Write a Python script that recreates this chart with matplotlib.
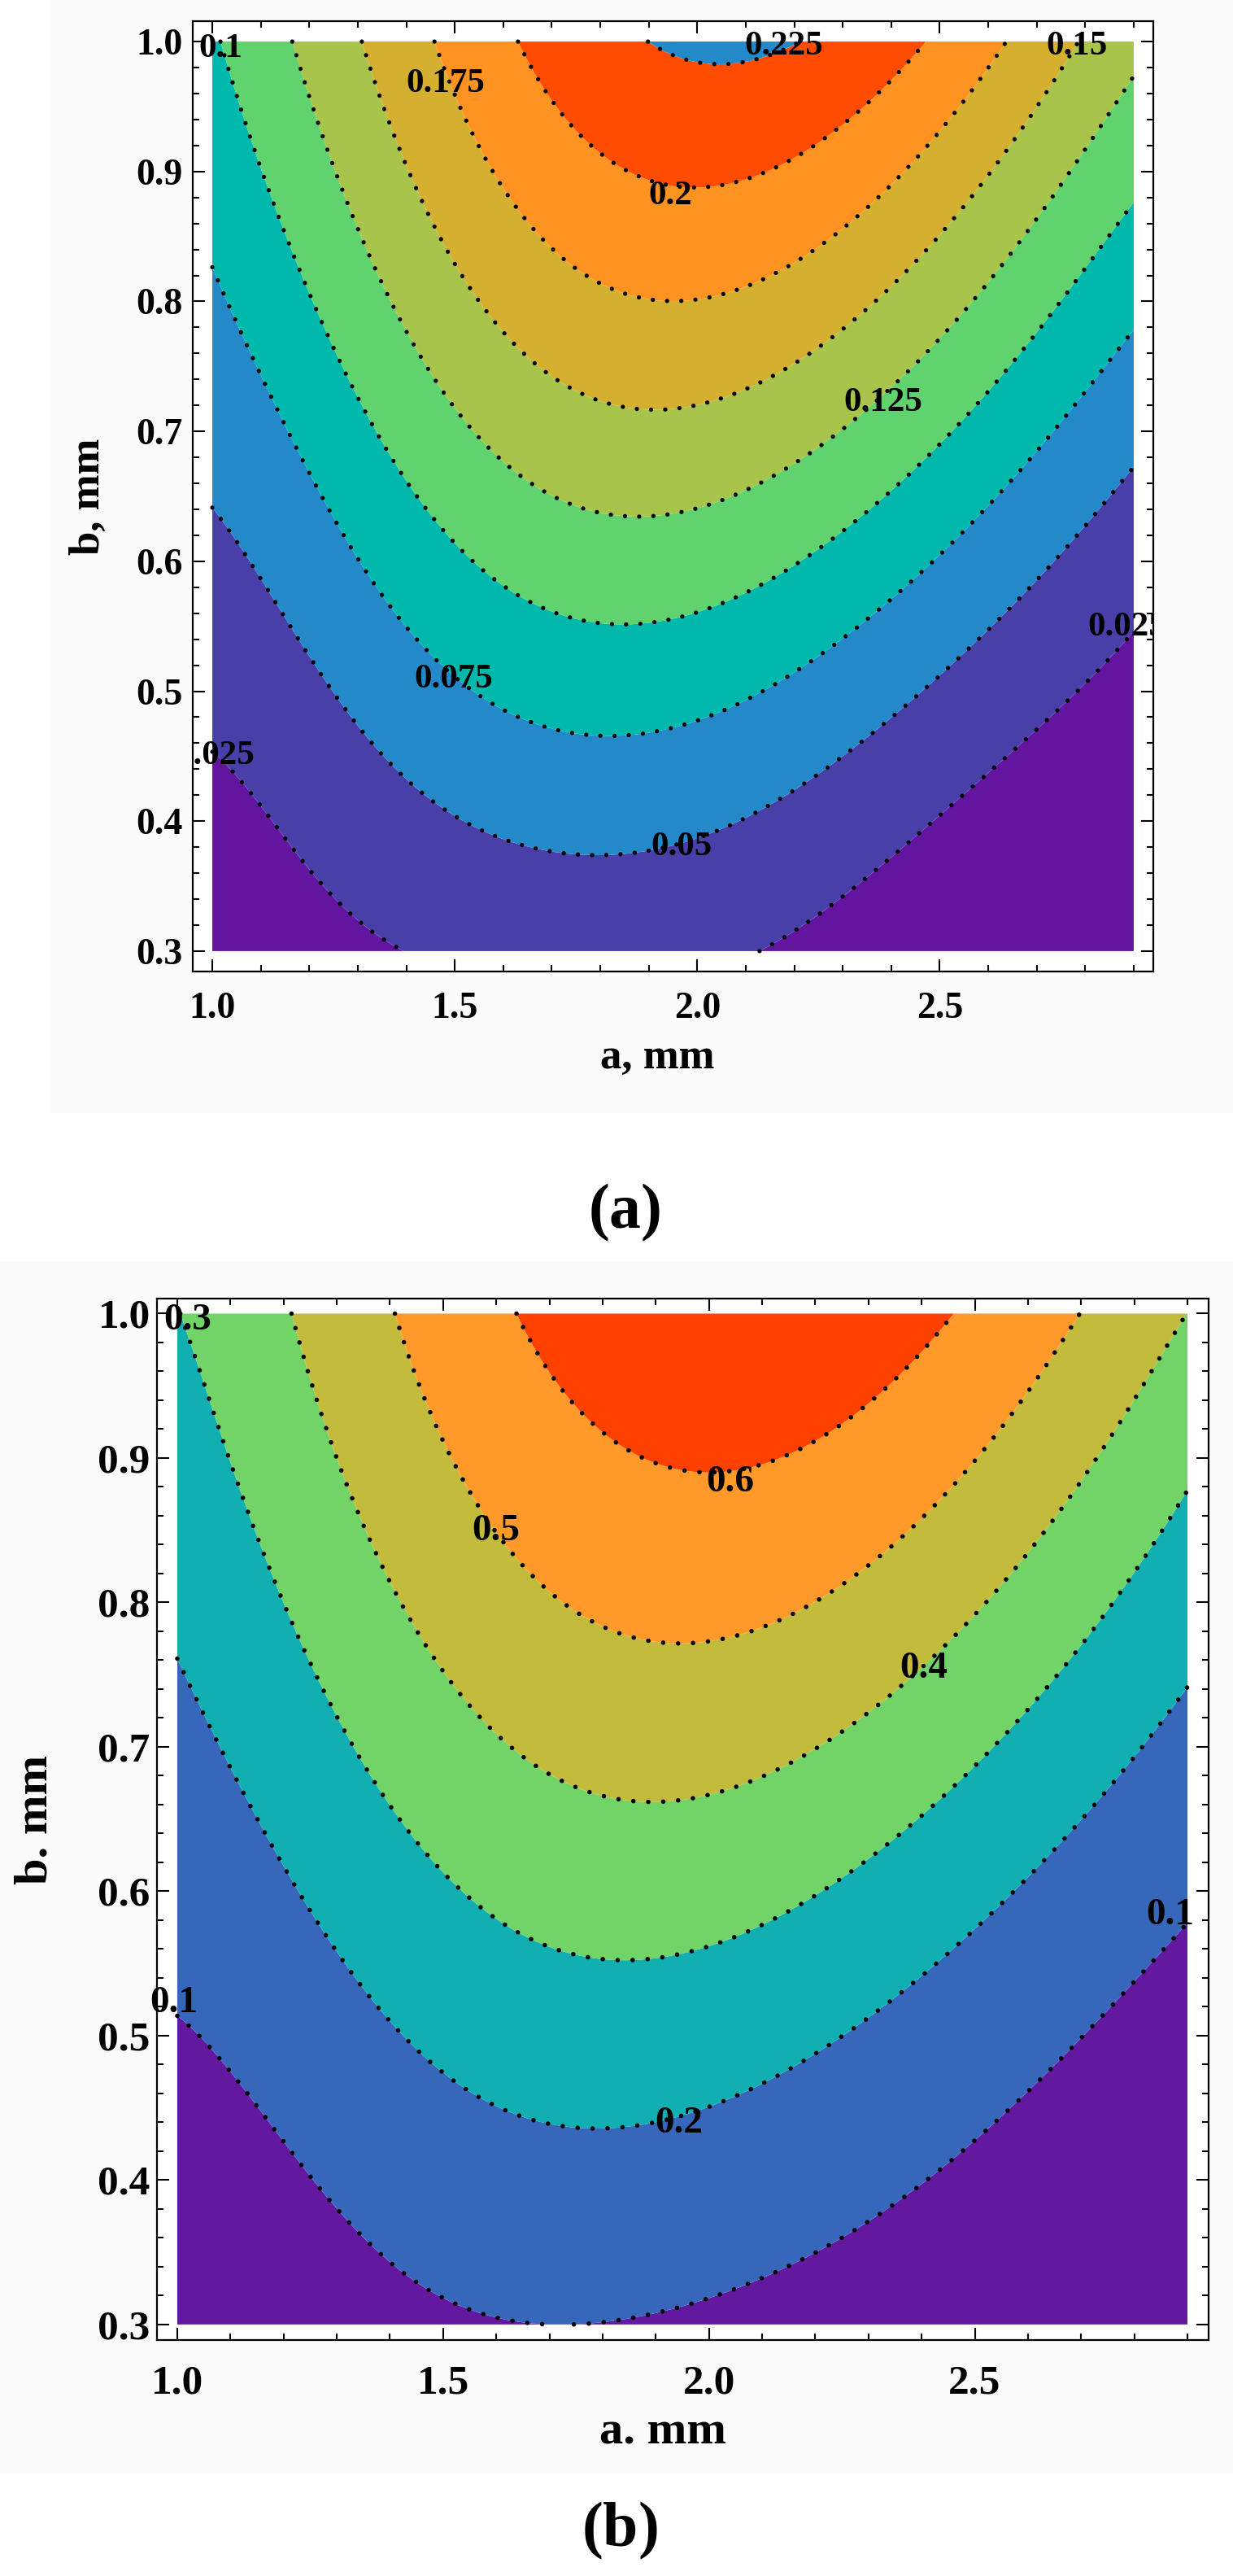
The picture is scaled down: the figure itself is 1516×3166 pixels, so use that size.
import numpy as np
import matplotlib
matplotlib.use('Agg')
import matplotlib.pyplot as plt
from matplotlib.ticker import MultipleLocator, FormatStrFormatter
from matplotlib.patches import Rectangle

plt.rcParams['font.family'] = ['Liberation Serif', 'DejaVu Serif']
plt.rcParams['font.weight'] = 'bold'
plt.rcParams['mathtext.fontset'] = 'custom'
plt.rcParams['mathtext.rm'] = 'Liberation Serif'
plt.rcParams['mathtext.bf'] = 'Liberation Serif:bold'

# ---------------- panel (a): points (a, b) ----------------
levels_a = [0.025, 0.05, 0.075, 0.1, 0.125, 0.15, 0.175, 0.2, 0.225]
colors_a = ['#6415a0', '#4840a8', '#2389c9', '#00b8ac', '#60d26e',
            '#a8c44b', '#d5b030', '#ff9322', '#ff4c00', '#2389c9']

a025_a = [1.0, 1.186, 1.295, 1.38, 2.114, 2.407, 2.63, 2.9]
a025_b = [0.453, 0.369, 0.329, 0.30, 0.30, 0.378, 0.448, 0.543]
a050_a = [1.0, 1.233, 1.522, 1.79, 2.196, 2.407, 2.63, 2.742, 2.9]
a050_b = [0.646, 0.502, 0.403, 0.371, 0.423, 0.478, 0.553, 0.603, 0.678]
a075_a = [1.0, 1.233, 1.426, 1.82, 2.196, 2.407, 2.63, 2.742, 2.9]
a075_b = [0.827, 0.641, 0.539, 0.465, 0.505, 0.575, 0.655, 0.70, 0.781]
a100_a = [1.02, 1.131, 1.233, 1.426, 1.859, 2.196, 2.407, 2.63, 2.742, 2.9]
a100_b = [1.0, 0.870, 0.773, 0.654, 0.550, 0.600, 0.658, 0.749, 0.790, 0.874]
a125_a = [1.168, 1.237, 1.31, 1.619, 1.888, 2.196, 2.416, 2.63, 2.9]
a125_b = [1.0, 0.912, 0.85, 0.674, 0.631, 0.681, 0.745, 0.831, 0.971]
a150_a = [1.309, 1.483, 1.696, 1.926, 2.196, 2.407, 2.484, 2.775]
a150_b = [1.0, 0.844, 0.746, 0.713, 0.756, 0.817, 0.844, 1.0]
a175_a = [1.458, 1.569, 1.704, 1.975, 2.263, 2.459, 2.641]
a175_b = [1.0, 0.905, 0.844, 0.796, 0.844, 0.907, 1.0]
a200_a = [1.631, 1.698, 2.013, 2.338, 2.468]
a200_b = [1.0, 0.947, 0.883, 0.937, 1.0]
a225_a = [1.898, 2.02, 2.134]
a225_b = [1.0, 0.983, 1.0]

# estimated values at corners / edges (a, b, value)
anchor_a = [(1.0, 0.3, 0.006), (2.9, 0.3, 0.003), (1.0, 1.0, 0.099),
            (2.9, 1.0, 0.132), (1.75, 0.3, 0.031), (2.02, 1.0, 0.229)]

labels_a = [(0.1, 1.018, 0.997), (0.175, 1.481, 0.970), (0.225, 2.178, 0.999),
            (0.15, 2.783, 0.999), (0.2, 1.944, 0.884), (0.125, 2.384, 0.725),
            (0.075, 1.498, 0.512), (0.05, 1.967, 0.383), (0.025, 1.007, 0.453),
            (0.025, 2.887, 0.552)]

# ---------------- panel (b) ----------------
levels_b = [0.1, 0.2, 0.3, 0.4, 0.5, 0.6]
colors_b = ['#6318a0', '#3767bb', '#11afb2', '#72d366', '#c3bb3c',
            '#ff9a2a', '#ff4100']

b100_a = [1.0, 1.071, 1.2, 1.328, 1.483, 1.679, 1.824, 1.973, 2.23, 2.488, 2.745, 2.9]
b100_b = [0.517, 0.486, 0.419, 0.366, 0.328, 0.30, 0.30, 0.318, 0.359, 0.421, 0.505, 0.580]
b200_a = [1.0, 1.071, 1.135, 1.238, 1.38, 1.547, 1.689, 1.792, 2.037, 2.23, 2.423,
          2.617, 2.70, 2.9]
b200_b = [0.767, 0.712, 0.659, 0.594, 0.520, 0.467, 0.438, 0.434, 0.452, 0.493, 0.556,
          0.621, 0.659, 0.748]
b300_a = [1.006, 1.071, 1.135, 1.2, 1.30, 1.41, 1.56, 1.715, 1.844, 2.05, 2.23, 2.41,
          2.617, 2.745, 2.9]
b300_b = [1.0, 0.928, 0.856, 0.784, 0.712, 0.659, 0.596, 0.560, 0.551, 0.568, 0.611,
          0.659, 0.712, 0.784, 0.875]
b400_a = [1.216, 1.277, 1.354, 1.457, 1.586, 1.715, 1.934, 2.101, 2.359, 2.565, 2.745, 2.897]
b400_b = [1.0, 0.928, 0.856, 0.784, 0.717, 0.678, 0.659, 0.669, 0.748, 0.820, 0.911, 1.0]
b500_a = [1.408, 1.483, 1.56, 1.663, 1.792, 1.966, 2.166, 2.346, 2.514, 2.617, 2.697]
b500_b = [1.0, 0.926, 0.870, 0.827, 0.784, 0.769, 0.794, 0.849, 0.909, 0.957, 1.0]
b600_a = [1.634, 1.715, 1.766, 1.87, 1.96, 2.217, 2.346, 2.42, 2.468]
b600_b = [1.0, 0.950, 0.928, 0.897, 0.886, 0.914, 0.945, 0.981, 1.0]

anchor_b = [(1.0, 0.3, 0.02), (2.9, 0.3, 0.0), (1.0, 1.0, 0.298),
            (2.9, 1.0, 0.40), (1.75, 0.3, 0.102), (2.05, 1.0, 0.66)]

labels_b = [(0.3, 1.019, 0.998), (0.6, 2.04, 0.886), (0.5, 1.599, 0.852),
            (0.4, 2.404, 0.757), (0.2, 1.943, 0.442), (0.1, 0.994, 0.525),
            (0.1, 2.868, 0.586)]


def fit_field(curves, anchors, na=6, nb=4, lam=1e-5):
    pa, pb, pz, w = [], [], [], []
    for lev, xs, ys in curves:
        pa += xs
        pb += ys
        pz += [lev] * len(xs)
        w += [1.0] * len(xs)
    for x, y, z in anchors:
        pa.append(x)
        pb.append(y)
        pz.append(z)
        w.append(0.6)
    pa, pb, pz, w = map(np.asarray, (pa, pb, pz, w))

    def basis(x, y):
        u = (x - 1.95) / 0.95
        v = (y - 0.65) / 0.35
        return np.stack([u ** i * v ** j for i in range(na) for j in range(nb)], axis=-1)

    M = basis(pa, pb) * w[:, None]
    k = M.shape[1]
    M = np.vstack([M, np.sqrt(lam) * np.eye(k)])
    rhs = np.concatenate([pz * w, np.zeros(k)])
    coef = np.linalg.lstsq(M, rhs, rcond=None)[0]

    ga = np.linspace(1.0, 2.9, 381)
    gb = np.linspace(0.3, 1.0, 281)
    GA, GB = np.meshgrid(ga, gb)
    Z = basis(GA, GB) @ coef
    return GA, GB, Z


def style_axes(ax, xlim, ylim, tsize, xpad, ypad):
    ax.set_xlim(*xlim)
    ax.set_ylim(*ylim)
    ax.xaxis.set_major_locator(MultipleLocator(0.5))
    ax.xaxis.set_minor_locator(MultipleLocator(0.1))
    ax.yaxis.set_major_locator(MultipleLocator(0.1))
    ax.yaxis.set_minor_locator(MultipleLocator(0.02))
    ax.xaxis.set_major_formatter(FormatStrFormatter('%.1f'))
    ax.yaxis.set_major_formatter(FormatStrFormatter('%.1f'))
    ax.tick_params(which='both', direction='in', top=True, right=True, width=1.5)
    ax.tick_params(which='major', length=11)
    ax.tick_params(which='minor', length=6)
    ax.tick_params(axis='x', which='major', labelsize=tsize, pad=xpad)
    ax.tick_params(axis='y', which='major', labelsize=tsize, pad=ypad)
    for lab in ax.get_xticklabels() + ax.get_yticklabels():
        lab.set_fontweight('bold')
    for s in ax.spines.values():
        s.set_linewidth(1.6)


fig = plt.figure(figsize=(15.16, 31.66), dpi=100)
fig.patches.append(Rectangle((0.0416, 0.568), 0.9584, 0.432, transform=fig.transFigure,
                             facecolor='#fbfbfb', edgecolor='none', zorder=-10))
fig.patches.append(Rectangle((0.0, 0.0398), 1.0, 0.4706, transform=fig.transFigure,
                             facecolor='#fbfbfb', edgecolor='none', zorder=-10))

panels = [
    dict(rect=[0.15633, 0.62287, 0.77902, 0.36892],
         curves=[(0.025, a025_a, a025_b), (0.05, a050_a, a050_b), (0.075, a075_a, a075_b),
                 (0.1, a100_a, a100_b), (0.125, a125_a, a125_b), (0.15, a150_a, a150_b),
                 (0.175, a175_a, a175_b), (0.2, a200_a, a200_b), (0.225, a225_a, a225_b)],
         anchors=anchor_a, levels=levels_a, colors=colors_a, labels=labels_a,
         xlim=(0.9597, 2.9403), ylim=(0.2843, 1.0157), tsize=33, xpad=18, ypad=9,
         lsize=31, asize=38, clip=True, xlab='a, mm', ylab='b, mm',
         xlc=(0.4835, -0.091), ylc=(-0.108, 0.5), dot=3.8),
    dict(rect=[0.12731, 0.09160, 0.85290, 0.40429],
         curves=[(0.1, b100_a, b100_b), (0.2, b200_a, b200_b), (0.3, b300_a, b300_b),
                 (0.4, b400_a, b400_b), (0.5, b500_a, b500_b), (0.6, b600_a, b600_b)],
         anchors=anchor_b, levels=levels_b, colors=colors_b, labels=labels_b,
         xlim=(0.9618, 2.9398), ylim=(0.2892, 1.0104), tsize=37, xpad=22, ypad=6,
         lsize=34, asize=42, clip=False, xlab='a. mm', ylab='b. mm',
         xlc=(0.481, -0.089), ylc=(-0.116, 0.5), dot=4.0),
]

for p in panels:
    ax = fig.add_axes(p['rect'])
    GA, GB, Z = fit_field(p['curves'], p['anchors'])
    bounds = [-10.0] + p['levels'] + [10.0]
    ax.contourf(GA, GB, Z, levels=bounds, colors=p['colors'], antialiased=True)
    cs = ax.contour(GA, GB, Z, levels=p['levels'], colors='k', linewidths=p['dot'],
                    linestyles=[(0, (0.01, 3.3))])
    cs.set_capstyle('round')
    for lev, x, y in p['labels']:
        t = ax.text(x, y, f'{lev:g}', ha='center', va='center_baseline',
                    fontsize=p['lsize'], fontweight='bold', zorder=5)
        t.set_clip_on(p['clip'])
    style_axes(ax, p['xlim'], p['ylim'], p['tsize'], p['xpad'], p['ypad'])
    ax.set_xlabel(p['xlab'], fontsize=p['asize'], fontweight='bold', va='center')
    ax.set_ylabel(p['ylab'], fontsize=p['asize'], fontweight='bold', va='center')
    ax.xaxis.set_label_coords(*p['xlc'])
    ax.yaxis.set_label_coords(*p['ylc'])

fig.text(0.5066, 0.5294, r'$(\mathbf{a})$', fontsize=56, ha='center', va='center')
fig.text(0.5026, 0.0177, r'$(\mathbf{b})$', fontsize=56, ha='center', va='center')

fig.savefig('out.png', dpi=100)
